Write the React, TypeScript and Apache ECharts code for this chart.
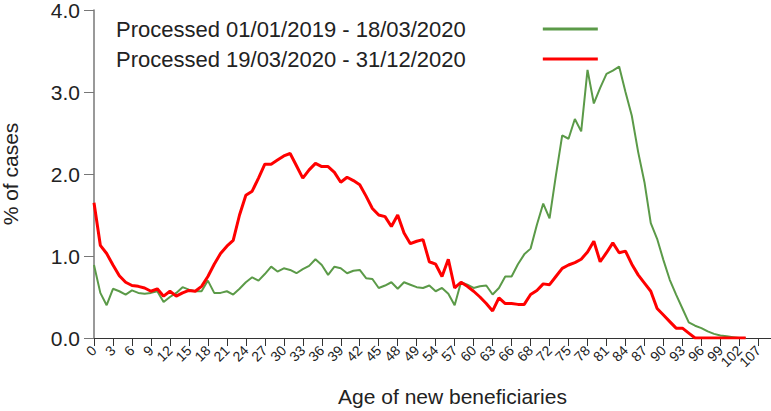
import React, { useEffect, useRef } from "react";
import * as echarts from "echarts";

const ages: string[] = Array.from({ length: 108 }, (_, i) => String(i));

const tickLabels: string[] = [
  "0", "3", "6", "9", "12", "15", "18", "21", "24", "27", "30", "33",
  "36", "39", "42", "45", "48", "49", "54", "57", "60", "63", "66", "68",
  "72", "75", "78", "81", "84", "87", "90", "93", "96", "99", "102", "107",
];

const yTicks: number[] = [0, 1, 2, 3, 4];

const seriesNames: string[] = [
  "Processed 01/01/2019 - 18/03/2020",
  "Processed 19/03/2020 - 31/12/2020",
];

// % of cases by age, 2019 - 18/03/2020
const greenValues: number[] = [
  0.89, 0.55, 0.40, 0.60, 0.57, 0.53, 0.58, 0.55, 0.54, 0.55,
  0.57, 0.44, 0.50, 0.55, 0.62, 0.59, 0.57, 0.57, 0.70, 0.55,
  0.55, 0.57, 0.53, 0.60, 0.68, 0.74, 0.70, 0.78, 0.87, 0.81,
  0.85, 0.83, 0.79, 0.84, 0.88, 0.96, 0.89, 0.77, 0.87, 0.85,
  0.79, 0.82, 0.83, 0.73, 0.72, 0.61, 0.64, 0.68, 0.60, 0.68,
  0.65, 0.62, 0.61, 0.64, 0.57, 0.61, 0.54, 0.40, 0.68, 0.65,
  0.61, 0.63, 0.64, 0.53, 0.61, 0.75, 0.75, 0.90, 1.02, 1.09,
  1.38, 1.64, 1.46, 1.98, 2.47, 2.43, 2.67, 2.52, 3.27, 2.86,
  3.05, 3.22, 3.26, 3.31, 3.00, 2.71, 2.27, 1.90, 1.40, 1.21,
  0.95, 0.71, 0.53, 0.36, 0.19, 0.15, 0.12, 0.08, 0.05, 0.03,
  0.02, 0.01, 0.00, 0.00,
];

// % of cases by age, 19/03/2020 - 31/12/2020
const redValues: number[] = [
  1.65, 1.13, 1.03, 0.89, 0.76, 0.68, 0.64, 0.63, 0.61, 0.57,
  0.60, 0.51, 0.57, 0.51, 0.55, 0.58, 0.57, 0.63, 0.75, 0.90,
  1.03, 1.12, 1.19, 1.50, 1.74, 1.79, 1.95, 2.12, 2.12, 2.17,
  2.22, 2.25, 2.10, 1.95, 2.05, 2.13, 2.09, 2.09, 2.02, 1.90,
  1.96, 1.92, 1.87, 1.73, 1.58, 1.50, 1.48, 1.36, 1.50, 1.28,
  1.15, 1.18, 1.20, 0.93, 0.90, 0.75, 0.96, 0.61, 0.68, 0.63,
  0.57, 0.50, 0.42, 0.33, 0.49, 0.42, 0.42, 0.41, 0.41, 0.53,
  0.58, 0.66, 0.65, 0.75, 0.85, 0.89, 0.92, 0.96, 1.05, 1.18,
  0.93, 1.04, 1.16, 1.04, 1.06, 0.90, 0.77, 0.67, 0.57, 0.36,
  0.28, 0.20, 0.12, 0.12, 0.06, 0.00, 0.00, 0.00, 0.00, 0.00,
  0.00, 0.00, 0.00, 0.00,
];

const FONT = "Liberation Sans";
const TEXT = "#222";
const GREEN = "#5b9a48";
const RED = "#ff0000";

export default function App() {
  const ref = useRef<HTMLDivElement>(null);
  useEffect(() => {
    if (!ref.current) return;
    const chart = echarts.init(ref.current, undefined, { renderer: "svg" });
    chart.setOption({
      animation: false,
      backgroundColor: "#fff",
      textStyle: { fontFamily: FONT, color: TEXT },
      grid: {
        left: 94,
        right: 0,
        top: 10,
        bottom: 73,
        containLabel: false,
        outerBoundsMode: "none",
      },
      legend: {
        orient: "vertical",
        left: 111,
        top: 12,
        align: "right",
        itemWidth: 55,
        itemHeight: 3,
        itemGap: 6,
        data: [
          { name: seriesNames[0], icon: "rect", itemStyle: { color: GREEN } },
          { name: seriesNames[1], icon: "rect", itemStyle: { color: RED } },
        ],
        textStyle: {
          fontFamily: FONT,
          fontSize: 22,
          color: TEXT,
          lineHeight: 24,
          padding: [0, 72, 0, 0],
        },
      },
      xAxis: {
        type: "category",
        data: ages,
        boundaryGap: false,
        name: "Age of new beneficiaries",
        nameLocation: "middle",
        nameGap: 48,
        nameTextStyle: { fontFamily: FONT, fontSize: 21, color: TEXT, padding: [0, 0, 0, 40] },
        axisLine: { lineStyle: { color: "#333", width: 1.2 } },
        axisTick: { interval: 2, length: 8, lineStyle: { color: "#333" } },
        axisLabel: {
          interval: 2,
          rotate: 45,
          margin: 10,
          showMinLabel: true,
          showMaxLabel: true,
          hideOverlap: false,
          fontFamily: FONT,
          fontSize: 14,
          color: TEXT,
          formatter: (_v: string, idx: number) =>
            idx % 3 === 0 && tickLabels[idx / 3] !== undefined ? tickLabels[idx / 3] : "",
        },
        splitLine: { show: false },
      },
      yAxis: {
        type: "value",
        min: yTicks[0],
        max: yTicks[yTicks.length - 1],
        interval: 1,
        name: "% of cases",
        nameLocation: "middle",
        nameGap: 73,
        nameTextStyle: { fontFamily: FONT, fontSize: 21, color: TEXT },
        axisLine: { show: true, lineStyle: { color: "#777", width: 1.5 } },
        axisTick: { show: true, length: 10, lineStyle: { color: "#777" } },
        axisLabel: {
          margin: 14,
          fontFamily: FONT,
          fontSize: 21,
          lineHeight: 18,
          color: TEXT,
          formatter: (v: number) => v.toFixed(1),
        },
        splitLine: { show: false },
      },
      series: [
        {
          name: seriesNames[0],
          type: "line",
          data: greenValues,
          symbol: "none",
          lineStyle: { color: GREEN, width: 2 },
          itemStyle: { color: GREEN },
          z: 2,
        },
        {
          name: seriesNames[1],
          type: "line",
          data: redValues,
          symbol: "none",
          lineStyle: { color: RED, width: 3 },
          itemStyle: { color: RED },
          z: 3,
        },
      ],
    });
    return () => chart.dispose();
  }, []);
  return (
    <div
      ref={ref}
      style={{ position: "fixed", left: 0, top: 0, width: 771, height: 411 }}
    />
  );
}
